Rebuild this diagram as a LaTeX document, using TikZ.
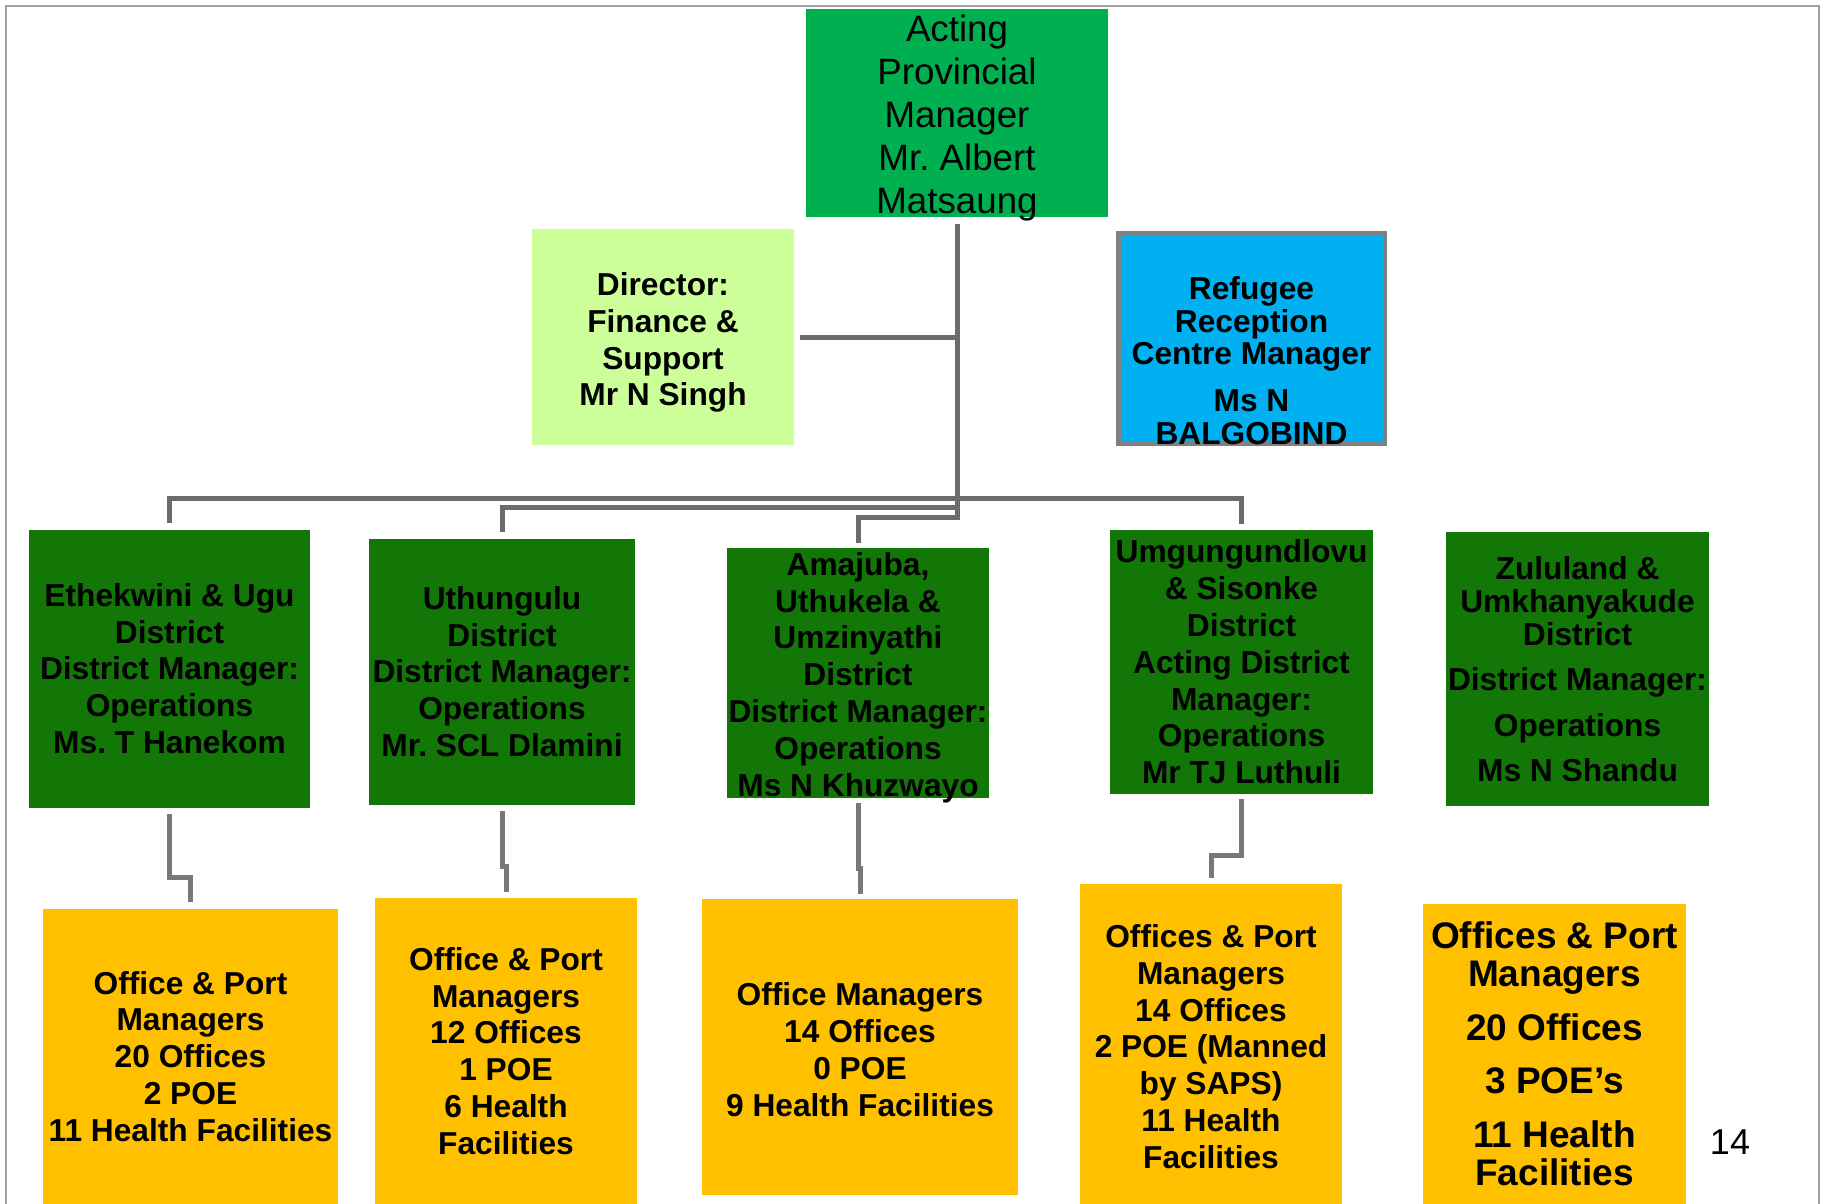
\documentclass[tikz,border=0pt]{standalone}
\usepackage{fontspec}
\setmainfont{Liberation Sans}
\frenchspacing
\definecolor{topgreen}{HTML}{00B050}
\definecolor{lightgreen}{HTML}{CCFF99}
\definecolor{refblue}{HTML}{00B0F0}
\definecolor{refborder}{HTML}{808080}
\definecolor{distgreen}{RGB}{19,119,8}
\definecolor{amber}{HTML}{FFC000}
\definecolor{linegray}{HTML}{6B6B6B}
\definecolor{linegraytwo}{HTML}{787878}
\definecolor{framegray}{HTML}{A0A0A0}
\begin{document}
\frenchspacing
\begin{tikzpicture}[x=1pt,y=-1pt,
  box/.style={rectangle, inner sep=0pt, align=center, text=black},
  dtext/.style={font={\bfseries\fontsize{31.7}{36.8}\selectfont}},
  district/.style={box, fill=distgreen, dtext},
  office/.style={box, fill=amber, dtext},
  conn/.style={draw=linegray, line width=5pt, line join=miter},
  conntwo/.style={draw=linegraytwo, line width=5pt, line join=miter},
]
\useasboundingbox (0,0) rectangle (1823,1204);
\fill[white] (0,0) rectangle (1823,1204);
\draw[framegray, line width=2pt] (6,1204) -- (6,6) -- (1819,6) -- (1819,1204);

% top level
\node[box, fill=topgreen, minimum width=302pt, minimum height=208pt] (top) at (957,113) {};
\node[box, font={\fontsize{36.7}{43}\selectfont}] (toptext) at (957,118.5)
  {Acting\\Provincial\\Manager\\Mr. Albert\\Matsaung};

\node[box, fill=lightgreen, minimum width=262pt, minimum height=216pt] (dir) at (663,337) {};
\node[box, dtext] (dirtext) at (663,342.5)
  {Director:\\Finance \&\\Support\\Mr N Singh};

\node[box, fill=refblue, draw=refborder, line width=4.5pt,
  minimum width=266.5pt, minimum height=210.5pt] (ref) at (1251.5,338.5) {};
\node[box, font={\bfseries\fontsize{31.7}{32.6}\selectfont}] (reftext) at (1251.5,360.5)
  {Refugee\\Reception\\Centre Manager\\[14pt]Ms N\\BALGOBIND};

% districts
\node[district, minimum width=281pt, minimum height=278pt] (eth) at (169.5,668.5)
  {Ethekwini \& Ugu\\District\\District Manager:\\Operations\\Ms. T Hanekom};
\node[district, minimum width=266pt, minimum height=266pt] (uth) at (502,671.5)
  {Uthungulu\\District\\District Manager:\\Operations\\Mr. SCL Dlamini};
\node[district, minimum width=262pt, minimum height=250pt] (amaj) at (858,673) {};
\node[box, dtext] (amajtext) at (858,677.5)
  {Amajuba,\\Uthukela \&\\Umzinyathi\\District\\District Manager:\\Operations\\Ms N Khuzwayo};
\node[district, minimum width=263pt, minimum height=264pt] (umg) at (1241.5,662)
  {Umgungundlovu\\\& Sisonke\\District\\Acting District\\Manager:\\Operations\\Mr TJ Luthuli};
\node[district, minimum width=263pt, minimum height=274pt,
  font={\bfseries\fontsize{31.7}{33}\selectfont}] (zul) at (1577.5,669)
  {Zululand \&\\Umkhanyakude\\District\\[12.5pt]District Manager:\\[12.5pt]Operations\\[12.5pt]Ms N Shandu};

% offices
\node[office, minimum width=295pt, minimum height=295.4pt] (ethc) at (190.5,1056.3)
  {Office \& Port\\Managers\\20 Offices\\2 POE\\11 Health Facilities};
\node[office, minimum width=262pt, minimum height=306pt] (uthc) at (506,1051)
  {Office \& Port\\Managers\\12 Offices\\1 POE\\6 Health\\Facilities};
\node[office, minimum width=316pt, minimum height=296pt] (amajc) at (860,1047) {};
\node[box, dtext] (amajctext) at (860,1049.5)
  {Office Managers\\14 Offices\\0 POE\\9 Health Facilities};
\node[office, minimum width=262pt, minimum height=320pt] (umgc) at (1211,1044) {};
\node[box, dtext] (umgctext) at (1211,1046.5)
  {Offices \& Port\\Managers\\14 Offices\\2 POE (Manned\\by SAPS)\\11 Health\\Facilities};
\node[office, minimum width=263pt, minimum height=300pt,
  font={\bfseries\fontsize{37}{38.5}\selectfont}] (zulc) at (1554.5,1054)
  {Offices \& Port\\Managers\\[15pt]20 Offices\\[15pt]3 POE’s\\[15pt]11 Health\\Facilities};

\node[font={\fontsize{36}{40}\selectfont}] (pg) at (1730,1142) {14};

% connectors (upper)
\coordinate (b1) at (957,498);
\coordinate (b2) at (957,507.5);
\coordinate (b3) at (957,517);
\draw[conn] ([yshift=-7pt]top.south) -- (b3) -| ([yshift=5pt]amaj.north);
\draw[conn] ([xshift=6pt]dir.east) -- (dir.east -| top.south);
\draw[conn] ([yshift=6pt]eth.north) |- (b1) -| ([yshift=6pt]umg.north);
\draw[conn] ([yshift=6pt]uth.north) |- (b2);

% connectors (lower)
\coordinate (e1) at (190.5,877);
\coordinate (u1) at (506,866);
\coordinate (a1) at (860,868);
\coordinate (g1) at (1211,855);
\draw[conntwo] ([yshift=-6pt]eth.south) |- (e1) -- ([yshift=6pt]ethc.north);
\draw[conntwo] ([yshift=-6pt]uth.south) |- (u1) -- ([yshift=6pt]uthc.north);
\draw[conntwo] ([yshift=-5pt]amaj.south) |- (a1) -- ([yshift=5pt]amajc.north);
\draw[conntwo] ([yshift=-5pt]umg.south) |- (g1) -- ([yshift=6pt]umgc.north);
\end{tikzpicture}
\end{document}
